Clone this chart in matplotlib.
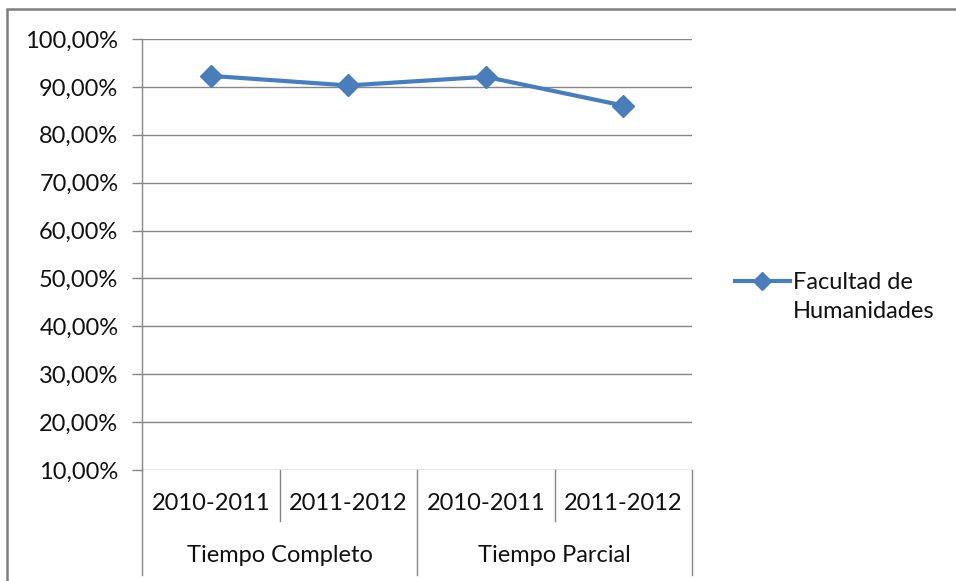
import matplotlib
matplotlib.use("Agg")
import matplotlib.pyplot as plt
from matplotlib.lines import Line2D
from matplotlib.patches import Rectangle
from matplotlib.ticker import FuncFormatter, MultipleLocator

# Data
subcategories = ["2010-2011", "2011-2012", "2010-2011", "2011-2012"]
groups = ["Tiempo Completo", "Tiempo Parcial"]
series_name = "Facultad de\nHumanidades"
values = [0.923, 0.903, 0.921, 0.861]

W, H = 956, 581
plt.rcParams['font.family'] = ['Lato', 'DejaVu Sans']
fig = plt.figure(figsize=(W / 100, H / 100), dpi=100)
fig.patch.set_facecolor('white')

grid_c = '#868686'
line_c = '#4A7EBB'
text_c = '#111111'
fs = 17

# Outer border
fig.patches.append(Rectangle((7 / W, -0.05), 1.2, 1 - 9 / H + 0.05, transform=fig.transFigure,
                             fill=False, edgecolor='#7f7f7f', linewidth=1.8))

ax = fig.add_axes([142 / W, 1 - 470 / H, (692 - 142) / W, (470 - 39) / H])
x = list(range(len(values)))
ax.plot(x, values, color=line_c, linewidth=3, marker='D', markersize=11,
        markerfacecolor=line_c, markeredgecolor=line_c, solid_joinstyle='round')

ax.set_xlim(-0.5, len(values) - 0.5)
ax.set_ylim(0.10, 1.00)
ax.yaxis.set_major_locator(MultipleLocator(0.10))
ax.yaxis.set_major_formatter(FuncFormatter(lambda v, p: f"{v*100:.2f}%".replace('.', ',')))
ax.grid(axis='y', color=grid_c, linewidth=1)
ax.set_axisbelow(True)
for s in ['top', 'right', 'bottom']:
    ax.spines[s].set_visible(False)
ax.spines['left'].set_color(grid_c)
ax.spines['left'].set_linewidth(1)
ax.tick_params(axis='y', length=7, color=grid_c, width=1, labelsize=fs, labelcolor=text_c, pad=10)
ax.set_xticks([])

# Category axis separators and labels
ah = 470 - 39
tr = ax.get_xaxis_transform()
for xs in [0.5, 2.5]:
    ax.plot([xs, xs], [0, -51 / ah], color=grid_c, lw=1, transform=tr, clip_on=False)
for xs in [-0.5, 1.5, 3.5]:
    ax.plot([xs, xs], [0, -105 / ah], color=grid_c, lw=1, transform=tr, clip_on=False)
for i, lab in enumerate(subcategories):
    ax.text(i, -33 / ah, lab, transform=tr, ha='center', va='center', fontsize=fs, color=text_c)
for g, lab in enumerate(groups):
    ax.text(0.5 + 2 * g, -85 / ah, lab, transform=tr, ha='center', va='center', fontsize=fs, color=text_c)

# Legend
ly = 1 - 281 / H
fig.add_artist(Line2D([735 / W, 790 / W], [ly, ly], transform=fig.transFigure,
                      color=line_c, linewidth=3))
fig.add_artist(Line2D([762 / W], [ly], transform=fig.transFigure, marker='D', markersize=9,
                      color=line_c, linestyle='none'))
fig.text(793 / W, 1 - 297 / H, series_name, ha='left', va='center', fontsize=fs,
         color=text_c, linespacing=1.5)

fig.savefig('out.png', dpi=100, facecolor='white')
